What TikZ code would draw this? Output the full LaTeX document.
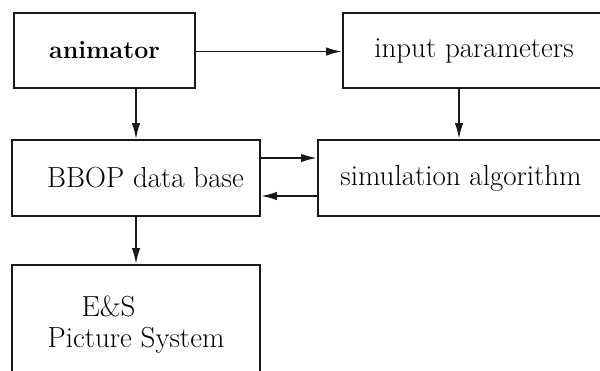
\documentclass[tikz,border=0pt]{standalone}
\usetikzlibrary{arrows.meta}
\begin{document}
\begin{tikzpicture}[x=1pt,y=-1pt,
  line width=1.9pt,
  box/.style={draw=black!90, rectangle, inner sep=0pt, text=black,
              font=\fontsize{29}{31}\selectfont},
  link/.style={draw=black!90, -{Latex[length=16pt,width=8.5pt]}}]
  \path[use as bounding box, clip] (0,0) rectangle (600,370);

  % boxes
  \node[box, minimum width=181pt, minimum height=75pt,
        font=\fontsize{25}{30}\selectfont\bfseries] (anim) at (104.5,50.5) {animator};
  \node[box, minimum width=262pt, minimum height=75pt] (inp) at (474,50.5) {input parameters};
  \node[box, minimum width=248pt, minimum height=76pt] (bbop) at (136,178) {\hspace*{19pt}BBOP data base};
  \node[box, minimum width=286pt, minimum height=76pt] (sim) at (461,178) {simulation algorithm};
  \node[box, minimum width=248pt, minimum height=120pt, align=left] (es) at (136,325)
       {\hspace*{34pt}E\&S\\Picture System};

  % connectors
  \coordinate (upper) at (0,158);
  \coordinate (lower) at (0,196);
  \draw[link] (anim.east |- 0,51.5) -- (inp.west |- 0,51.5);
  \draw[link] (anim.south -| bbop.north) -- (bbop.north);
  \draw[link] (inp.south -| 459,0) -- (sim.north -| 459,0);
  \draw[link] (bbop.east |- upper) -- (sim.west |- upper);
  \draw[link] (sim.west |- lower) -- (bbop.east |- lower);
  \draw[link] (bbop) -- (es);
\end{tikzpicture}
\end{document}
